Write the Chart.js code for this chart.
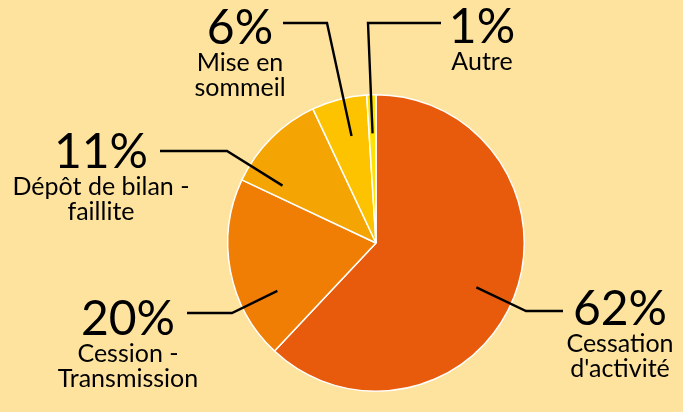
<!DOCTYPE html>
<html>
<head>
<meta charset="utf-8">
<script src="https://cdn.jsdelivr.net/npm/chart.js@4"></script>
<style>
  html, body { margin: 0; padding: 0; background: #fee39f; }
  .wrap { width: 683px; height: 412px; position: relative; }
</style>
</head>
<body>
<div class="wrap"><canvas id="pie"></canvas></div>
<script>
const categories = ["Cessation d'activité", 'Cession - Transmission', 'Dépôt de bilan - faillite', 'Mise en sommeil', 'Autre'];
const shares = [62, 20, 11, 6, 1];
const labelLines = [["Cessation", "d'activité"], ['Cession -', 'Transmission'], ['Dépôt de bilan -', 'faillite'], ['Mise en', 'sommeil'], ['Autre']];
const sliceColors = ['#e85b0d', '#f07e05', '#f5a503', '#fdc300', '#ffe200'];

// where each callout sits: text centre, leader elbow and end, anchor inside the slice
const callouts = [
  { x: 620, y: 325, elbow: [526, 311], end: [563, 311], at: 0.51 },
  { x: 128, y: 335, elbow: [232, 313], end: [187, 313], at: 0.29 },
  { x: 101, y: 168, elbow: [227, 151], end: [160, 151], at: 0.16 },
  { x: 240, y: 44, elbow: [327, 23], end: [283, 23], at: 0.57 },
  { x: 482, y: 43, elbow: [368, 23], end: [441, 23], at: 0.5 },
];

const FONT = "Lato, 'Open Sans', sans-serif";

const calloutPlugin = {
  id: 'callouts',
  afterDatasetsDraw(chart) {
    const ctx = chart.ctx;
    const arcs = chart.getDatasetMeta(0).data;
    ctx.save();
    arcs.forEach((arc, i) => {
      const c = callouts[i];
      const { x, y, startAngle, endAngle, outerRadius } = arc.getProps(['x', 'y', 'startAngle', 'endAngle', 'outerRadius'], true);
      const a = startAngle + (endAngle - startAngle) * c.at;
      const r = outerRadius * 0.74;
      ctx.strokeStyle = '#000';
      ctx.lineWidth = 2.4;
      ctx.lineJoin = 'miter';
      ctx.beginPath();
      ctx.moveTo(x + Math.cos(a) * r, y + Math.sin(a) * r);
      ctx.lineTo(c.elbow[0], c.elbow[1]);
      ctx.lineTo(c.end[0], c.end[1]);
      ctx.stroke();

      ctx.fillStyle = '#000';
      ctx.textAlign = 'center';
      ctx.textBaseline = 'alphabetic';
      ctx.font = `48px ${FONT}`;
      ctx.fillText(shares[i] + '%', c.x, c.y);
      ctx.font = `25px ${FONT}`;
      labelLines[i].forEach((line, k) => ctx.fillText(line, c.x, c.y + 27 + k * 24.5));
    });
    ctx.restore();
  },
};

new Chart(document.getElementById('pie'), {
  type: 'pie',
  data: {
    labels: categories,
    datasets: [{
      data: shares,
      backgroundColor: sliceColors,
      borderColor: '#ffffff',
      borderWidth: 1.5,
    }],
  },
  options: {
    responsive: true,
    maintainAspectRatio: false,
    animation: false,
    layout: { padding: { top: 94, bottom: 20, left: 227, right: 158 } },
    plugins: { legend: { display: false }, tooltip: { enabled: false } },
  },
  plugins: [calloutPlugin],
});
</script>
</body>
</html>
